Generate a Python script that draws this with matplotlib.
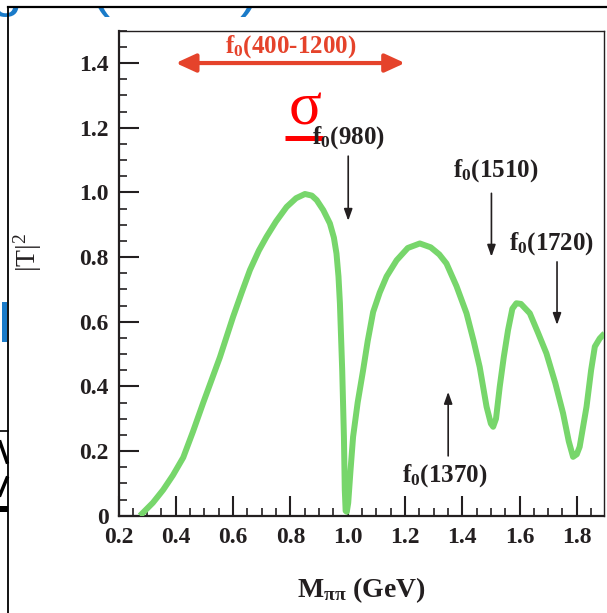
import numpy as np
import matplotlib
matplotlib.use("Agg")
import matplotlib.pyplot as plt
from matplotlib.ticker import MultipleLocator, FixedLocator, FixedFormatter
from matplotlib.patches import Rectangle

plt.rcParams["font.family"] = ["Liberation Serif", "DejaVu Serif"]
plt.rcParams["mathtext.default"] = "regular"

# |T|^2 curve
mass = [0.275, 0.32, 0.356, 0.39, 0.426, 0.46, 0.496, 0.525, 0.554, 0.600,
        0.63, 0.659, 0.69, 0.717, 0.75, 0.787, 0.82, 0.851, 0.875, 0.892,
        0.915, 0.938, 0.952, 0.961, 0.968, 0.973, 0.981, 0.987, 0.990, 0.993,
        0.997, 1.002, 1.010, 1.019, 1.035, 1.054, 1.07, 1.089, 1.112, 1.136,
        1.171, 1.21, 1.252, 1.29, 1.32, 1.345, 1.38, 1.415, 1.44, 1.461,
        1.485, 1.500, 1.508, 1.518, 1.531, 1.545, 1.560, 1.575, 1.589, 1.605,
        1.636, 1.665, 1.694, 1.725, 1.752, 1.772, 1.787, 1.800, 1.810, 1.834,
        1.850, 1.863, 1.880, 1.897]
t2 = [0.00, 0.04, 0.08, 0.125, 0.18, 0.26, 0.35, 0.42, 0.49, 0.615,
      0.69, 0.76, 0.82, 0.863, 0.91, 0.955, 0.982, 0.995, 0.99, 0.976,
      0.945, 0.904, 0.86, 0.811, 0.74, 0.657, 0.45, 0.244, 0.08, 0.015,
      0.012, 0.04, 0.14, 0.244, 0.35, 0.45, 0.54, 0.63, 0.69, 0.74,
      0.79, 0.828, 0.842, 0.83, 0.808, 0.78, 0.71, 0.626, 0.54, 0.46,
      0.337, 0.285, 0.275, 0.30, 0.399, 0.49, 0.574, 0.64, 0.657, 0.655,
      0.626, 0.565, 0.502, 0.41, 0.317, 0.23, 0.182, 0.190, 0.213, 0.337,
      0.45, 0.523, 0.548, 0.564]

# resonance markers: label, arrow x, arrow start y, arrow end y, label x, label y
res_names = ["f$_0$(980)", "f$_0$(1510)", "f$_0$(1720)", "f$_0$(1370)"]
res_x = [1.002, 1.502, 1.731, 1.351]
res_y0 = [1.112, 0.997, 0.785, 0.185]
res_y1 = [0.912, 0.801, 0.590, 0.383]
res_lx = [1.002, 1.517, 1.713, 1.339]
res_ly = [1.168, 1.068, 0.843, 0.123]

sigma_range = [0.4, 1.2]
sigma_y = 1.4

xticks = [0.2, 0.4, 0.6, 0.8, 1.0, 1.2, 1.4, 1.6, 1.8]
xlabels = ["0.2", "0.4", "0.6", "0.8", "1.0", "1.2", "1.4", "1.6", "1.8"]
yticks = [0, 0.2, 0.4, 0.6, 0.8, 1.0, 1.2, 1.4]
ylabels = ["0", "0.2", "0.4", "0.6", "0.8", "1.0", "1.2", "1.4"]

ink = "#231f20"
green = "#77d66b"
orange = "#e5432b"
blue = "#1a7bc9"

W, H = 607, 613
fig = plt.figure(figsize=(W / 100, H / 100), dpi=100)

# bits of the slide around the figure (pixel positions -> figure fraction)
fig.text(-10 / W, 1 - 5 / H, "gar (1993)", color=blue, fontsize=42,
         family="Liberation Sans", va="baseline", ha="left", zorder=1)
fig.add_artist(Rectangle((0, 1 - 7.5 / H), 1, 7.5 / H, transform=fig.transFigure,
                         color="white", lw=0, zorder=2))
fig.add_artist(plt.Line2D([8.3 / W, 8.3 / W], [0, 1 - 7 / H], color="black", lw=1.3, zorder=3))
fig.add_artist(plt.Line2D([8.3 / W, 1], [1 - 7 / H, 1 - 7 / H], color="black", lw=1.6, zorder=3))
fig.add_artist(Rectangle((2 / W, 1 - 342 / H), 5 / W, 40 / H,
                         transform=fig.transFigure, color=blue, lw=0))
fig.add_artist(plt.Line2D([0, 8 / W], [1 - 431 / H, 1 - 431 / H], color="black", lw=1.2))
fig.add_artist(plt.Line2D([0, 7 / W], [1 - 442 / H, 1 - 462 / H], color="black", lw=2.5))
fig.add_artist(plt.Line2D([0, 7 / W], [1 - 495 / H, 1 - 478 / H], color="black", lw=2.5))
fig.add_artist(Rectangle((0, 1 - 512 / H), 8 / W, 6 / H,
                         transform=fig.transFigure, color="black", lw=0))

ax = fig.add_axes([118.5 / W, 1 - 515.7 / H, 485.5 / W, 485 / H])

ax.plot(mass, t2, color=green, lw=4.3, solid_capstyle="butt", zorder=3)

ax.set_xlim(0.2, 1.895)
ax.set_ylim(0, 1.5)

ax.xaxis.set_major_locator(FixedLocator(xticks))
ax.xaxis.set_major_formatter(FixedFormatter(xlabels))
ax.xaxis.set_minor_locator(MultipleLocator(0.05))
ax.yaxis.set_major_locator(FixedLocator(yticks))
ax.yaxis.set_major_formatter(FixedFormatter(ylabels))
ax.yaxis.set_minor_locator(MultipleLocator(0.05))

ax.tick_params(which="major", direction="in", length=14.5, width=1.5, color=ink,
               labelsize=17, labelcolor=ink)
ax.tick_params(axis="x", which="major", pad=8)
ax.tick_params(axis="y", which="major", pad=7)
ax.tick_params(which="minor", direction="in", length=5.5, width=1.2, color=ink)
ax.tick_params(top=False, right=False, which="both")
for lab in ax.get_xticklabels() + ax.get_yticklabels():
    lab.set_fontweight("bold")

for side in ["left", "bottom"]:
    ax.spines[side].set_linewidth(1.6)
    ax.spines[side].set_color(ink)
for side in ["top", "right"]:
    ax.spines[side].set_linewidth(1.0)
    ax.spines[side].set_color(ink)

ax.set_xlabel("M$_{ππ}$ (GeV)", fontsize=20, fontweight="bold", color=ink)
ax.xaxis.set_label_coords(0.5, -(590 - 515.7) / 485, transform=ax.transAxes)
ax.xaxis.label.set_va("center")
ax.set_ylabel("|T|$^2$", fontsize=20, color=ink)
ax.yaxis.set_label_coords(-(118.5 - 28) / 485.5, (515.7 - 252) / 485)
ax.yaxis.label.set_va("center")

# red sigma range
ax.annotate("", xy=(sigma_range[0], sigma_y), xytext=(sigma_range[1], sigma_y),
            arrowprops=dict(arrowstyle="<|-|>,head_length=1.2,head_width=0.55",
                            color=orange, lw=3, shrinkA=0, shrinkB=0))
ax.text(np.mean(sigma_range), 1.452, "f$_0$(400-1200)", color=orange, fontsize=18,
        fontweight="bold", ha="center", va="center")

ax.text(0.850, 1.255, "σ", color="red", fontsize=44, ha="center", va="center")
ax.plot([0.781, 0.914], [1.169, 1.169], color="red", lw=3.6, solid_capstyle="butt", zorder=2)

for name, x, y0, y1, lx, ly in zip(res_names, res_x, res_y0, res_y1, res_lx, res_ly):
    ax.annotate("", xy=(x, y1), xytext=(x, y0),
                arrowprops=dict(arrowstyle="-|>,head_length=0.7,head_width=0.25",
                                color=ink, lw=1.2, shrinkA=0, shrinkB=0))
    ax.text(lx, ly, name, color=ink, fontsize=18, fontweight="bold",
            ha="center", va="center")

fig.savefig("out.png", dpi=100)
